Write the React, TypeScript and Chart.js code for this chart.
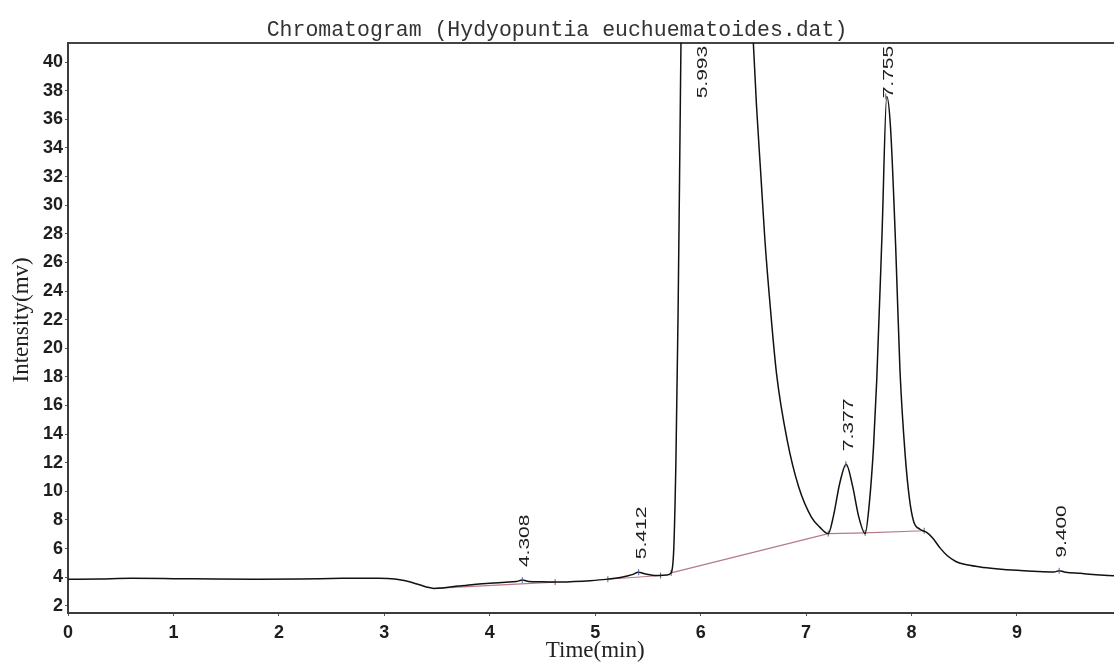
import React, { useEffect, useRef } from 'react';
import { Chart, registerables } from 'chart.js';

Chart.register(...registerables);

// ---- data ----
const TIME = [
  0.0, 0.3, 0.6, 1.0, 1.4, 1.8, 2.2, 2.6, 2.95, 3.1, 3.2, 3.3, 3.4, 3.47, 3.55, 3.7, 3.85, 4.0, 4.15, 4.25,
  4.31, 4.37, 4.5, 4.65, 4.8, 4.95, 5.1, 5.25, 5.35, 5.41, 5.48, 5.58, 5.68, 5.72, 5.745, 5.765, 5.785, 5.8,
  5.82, 5.86, 5.93, 5.993, 6.08, 6.2, 6.32, 6.42, 6.5, 6.53, 6.57, 6.61, 6.66, 6.72, 6.82, 6.93, 7.05, 7.13,
  7.21, 7.26, 7.32, 7.38, 7.44, 7.5, 7.56, 7.6, 7.64, 7.67, 7.72, 7.765, 7.8, 7.85, 7.89, 7.94, 7.98, 8.02,
  8.08, 8.14, 8.2, 8.27, 8.34, 8.42, 8.5, 8.65, 8.8, 9.0, 9.2, 9.35, 9.4, 9.46, 9.6, 9.75, 9.92,
];
const SIGNAL = [
  3.85, 3.88, 3.92, 3.9, 3.87, 3.86, 3.88, 3.92, 3.93, 3.88, 3.75, 3.55, 3.32, 3.22, 3.25, 3.38, 3.5, 3.58, 3.65, 3.7,
  3.8, 3.7, 3.68, 3.66, 3.7, 3.76, 3.85, 4.0, 4.18, 4.35, 4.22, 4.12, 4.15, 4.3, 6.0, 12.0, 22.0, 32.0,
  46.0, 70, 95, 105, 98, 84, 68, 54, 41.3, 36.9, 32.2, 27.5, 22.9, 18.2, 13.6, 10.3, 8.2, 7.5,
  7.05, 8.3, 10.6, 11.9, 10.4, 8.2, 7.05, 9.2, 13.2, 17.8, 28.0, 37.6, 35.5, 27.0, 18.5, 12.5, 9.5, 7.9,
  7.35, 7.15, 6.75, 6.05, 5.5, 5.1, 4.9, 4.72, 4.6, 4.48, 4.4, 4.37, 4.45, 4.35, 4.27, 4.18, 4.1,
];
const BASE_T = [3.47, 4.62, 4.9, 5.12, 5.62, 5.67, 5.72, 7.21, 7.56, 8.12];
const BASE_V: (number | null)[] = [3.22, 3.66, null, 3.86, 4.12, null, 4.3, 7.05, 7.1, 7.25];

const PEAK_T = [4.308, 5.412, 5.993, 7.377, 7.755, 9.4];
const PEAK_H = [3.8, 4.35, 105, 11.9, 37.6, 4.45];
const PEAK_LABELS = ['4.308', '5.412', '5.993', '7.377', '7.755', '9.400'];

const X_MIN = 0;
const X_MAX = 9.92;
const Y_MIN = 1.5;
const Y_MAX = 41.35;
const X_STEP = 1;
const Y_STEP = 2;

const TITLE = 'Chromatogram (Hydyopuntia euchuematoides.dat)';
const X_TITLE = 'Time(min)';
const Y_TITLE = 'Intensity(mv)';

const SANS = '"Liberation Sans", Arial, sans-serif';
const SERIF = '"Liberation Serif", "Times New Roman", serif';
const MONO = '"Liberation Mono", "Courier New", monospace';

const textPlugin = {
  id: 'chromText',
  afterDatasetsDraw(chart: any) {
    const { ctx, chartArea, scales } = chart;
    const xs = scales.x;
    const ys = scales.y;
    ctx.save();
    ctx.fillStyle = '#1e1e1e';
    ctx.font = `15px ${SANS}`;
    ctx.textAlign = 'left';
    ctx.textBaseline = 'middle';
    const stretch = 1.4;
    PEAK_T.forEach((t, i) => {
      const px = xs.getPixelForValue(t) + 3;
      const py = ys.getPixelForValue(Math.min(PEAK_H[i], Y_MAX + 10));
      const len = ctx.measureText(PEAK_LABELS[i]).width * stretch;
      let start = py - 13;
      if (start - len < chartArea.top + 3) start = chartArea.top + 3 + len;
      ctx.save();
      ctx.translate(px, start);
      ctx.rotate(-Math.PI / 2);
      ctx.scale(stretch, 1);
      ctx.fillText(PEAK_LABELS[i], 0, 0);
      ctx.restore();
    });
    ctx.restore();

    // y axis title
    ctx.save();
    ctx.fillStyle = '#222';
    ctx.textAlign = 'center';
    ctx.textBaseline = 'middle';
    ctx.font = `23px ${SERIF}`;
    ctx.translate(21.5, (chartArea.top + chartArea.bottom) / 2 - 8);
    ctx.rotate(-Math.PI / 2);
    ctx.fillText(Y_TITLE, 0, 0);
    ctx.restore();

    // x axis title
    ctx.save();
    ctx.fillStyle = '#222';
    ctx.textAlign = 'center';
    ctx.textBaseline = 'middle';
    ctx.font = `23px ${SERIF}`;
    ctx.fillText(X_TITLE, xs.getPixelForValue(5), 651);
    ctx.restore();
  },
};

export default function App() {
  const ref = useRef<HTMLCanvasElement | null>(null);

  useEffect(() => {
    document.body.style.margin = '0';
    const canvas = ref.current;
    if (!canvas) return;
    const main = TIME.map((t, i) => ({ x: t, y: SIGNAL[i] }));
    const base = BASE_T.map((t, i) => ({ x: t, y: BASE_V[i] }));
    const marks = PEAK_T.map((t, i) => ({ x: t, y: PEAK_H[i] }));

    const noHPad = (s: any) => {
      s.paddingLeft = 0;
      s.paddingRight = 0;
    };

    const chart = new Chart(canvas, {
      type: 'line',
      data: {
        datasets: [
          {
            label: 'baseline',
            data: base as any,
            borderColor: '#b77a84',
            borderWidth: 1.2,
            pointRadius: [0, 3, 0, 3, 3, 0, 3, 3, 3, 3] as any,
            pointHoverRadius: 0,
            pointStyle: 'line',
            rotation: 90,
            pointBorderColor: '#666',
            pointBorderWidth: 1,
            spanGaps: false,
            fill: false,
            order: 2,
          },
          {
            label: 'signal',
            data: main as any,
            borderColor: '#111',
            borderWidth: 1.5,
            pointRadius: 0,
            pointHoverRadius: 0,
            cubicInterpolationMode: 'monotone',
            fill: false,
            order: 1,
          },
          {
            label: 'peaks',
            type: 'scatter',
            data: marks as any,
            showLine: false,
            pointStyle: 'line',
            rotation: 90,
            pointRadius: 3,
            pointHoverRadius: 0,
            borderColor: '#5560a0',
            borderWidth: 1,
            order: 0,
          } as any,
        ],
      },
      options: {
        animation: false,
        responsive: true,
        maintainAspectRatio: false,
        layout: { autoPadding: false, padding: { left: 0, right: 0, top: 0, bottom: 0 } },
        plugins: {
          legend: { display: false },
          tooltip: { enabled: false },
          title: {
            display: true,
            text: TITLE,
            color: '#333',
            font: { family: MONO, size: 21.5, weight: 'normal', lineHeight: 1.2 },
            padding: { top: 17, bottom: 0 },
          },
        },
        scales: {
          x: {
            type: 'linear',
            position: 'bottom',
            min: X_MIN,
            max: X_MAX,
            afterFit: (s: any) => {
              s.height = 51;
              noHPad(s);
            },
            ticks: {
              stepSize: X_STEP,
              includeBounds: false,
              autoSkip: false,
              maxRotation: 0,
              padding: 6,
              color: '#1e1e1e',
              font: { family: SANS, size: 18, weight: 'bold' },
            },
            grid: { display: true, drawOnChartArea: false, drawTicks: true, tickLength: 3, color: '#555' },
            border: { display: true, color: '#3c3c3c', width: 2 },
          },
          x2: {
            type: 'linear',
            position: 'top',
            min: X_MIN,
            max: X_MAX,
            afterFit: (s: any) => {
              s.height = 0;
              noHPad(s);
            },
            ticks: { display: false },
            grid: { display: false },
            border: { display: true, color: '#444', width: 2 },
          },
          y: {
            type: 'linear',
            position: 'left',
            min: Y_MIN,
            max: Y_MAX,
            afterFit: (s: any) => {
              s.width = 68;
            },
            ticks: {
              stepSize: Y_STEP,
              includeBounds: false,
              autoSkip: false,
              padding: 2,
              color: '#1e1e1e',
              font: { family: SANS, size: 18, weight: 'bold' },
            },
            grid: { display: true, drawOnChartArea: false, drawTicks: true, tickLength: 3, color: '#555' },
            border: { display: true, color: '#3c3c3c', width: 2 },
          },
        },
      },
      plugins: [textPlugin],
    } as any);
    return () => chart.destroy();
  }, []);

  return (
    <div style={{ position: 'relative', width: 1114, height: 664, background: '#fff' }}>
      <canvas ref={ref} />
    </div>
  );
}
